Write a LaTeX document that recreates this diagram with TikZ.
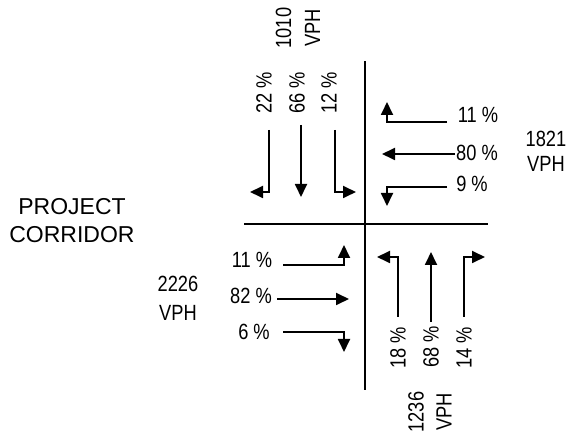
\documentclass[tikz,border=0pt]{standalone}
\usepackage{fontspec}
\setmainfont{Liberation Sans}
\newfontfamily\numfont[FakeStretch=0.83]{Liberation Sans}
\usetikzlibrary{arrows.meta}
\tikzset{
  road/.style={line width=2pt, line cap=rect},
  flow/.style={line width=1.8pt, -{Triangle[length=13pt,width=12pt]}},
  lbl/.style={font=\numfont\fontsize{22}{26}\selectfont, inner sep=0pt},
  vlbl/.style={lbl, rotate=90},
  vph/.style={lbl, align=center},
  title/.style={font=\fontsize{23}{28}\selectfont, inner sep=0pt, align=center}
}
\begin{document}
\begin{tikzpicture}[x=1pt,y=-1pt]
\useasboundingbox (0,0) rectangle (571,438);
% roads
\coordinate (vt) at (365,62);
\coordinate (vb) at (365,389);
\coordinate (hl) at (245,224);
\coordinate (hr) at (487,224);
\draw[road] (vt) -- (vb);
\draw[road] (hl) -- (hr);

% title
\node[title] (pc) at (72,221) {PROJECT\\CORRIDOR};

% southbound (top)
\node[vph, rotate=90, font=\numfont\fontsize{22}{29}\selectfont] (nvph) at (298,28) {1010\\VPH};
\node[vlbl] (s22) at (264,93) {22 \%};
\node[vlbl] (s66) at (297,93) {66 \%};
\node[vlbl] (s12) at (329,93) {12 \%};
\coordinate (sa1) at (269,130); \coordinate (sb1) at (269,192); \coordinate (sc1) at (250,192);
\coordinate (sa2) at (301,125); \coordinate (sb2) at (301,197);
\coordinate (sa3) at (335,130); \coordinate (sb3) at (335,192); \coordinate (sc3) at (356,192);
\draw[flow] (sa1) -- (sb1) -- (sc1);
\draw[flow] (sa2) -- (sb2);
\draw[flow] (sa3) -- (sb3) -- (sc3);

% westbound (right)
\node[vph, font=\numfont\fontsize{22}{25}\selectfont] (evph) at (546,151) {1821\\VPH};
\node[lbl] (w11) at (478,115) {11 \%};
\node[lbl] (w80) at (477,153) {80 \%};
\node[lbl] (w9) at (472,184) {9 \%};
\coordinate (wa1) at (447,122); \coordinate (wb1) at (387,122); \coordinate (wc1) at (387,102);
\coordinate (wa2) at (455,154); \coordinate (wb2) at (382,154);
\coordinate (wa3) at (447,187); \coordinate (wb3) at (387,187); \coordinate (wc3) at (387,206);
\draw[flow] (wa1) -- (wb1) -- (wc1);
\draw[flow] (wa2) -- (wb2);
\draw[flow] (wa3) -- (wb3) -- (wc3);

% eastbound (left)
\node[vph, font=\numfont\fontsize{22}{29}\selectfont] (wvph) at (178,298) {2226\\VPH};
\node[lbl] (e11) at (252,260) {11 \%};
\node[lbl] (e82) at (251,296) {82 \%};
\node[lbl] (e6) at (254,332) {6 \%};
\coordinate (ea1) at (283,265); \coordinate (eb1) at (344,265); \coordinate (ec1) at (344,245);
\coordinate (ea2) at (277,299); \coordinate (eb2) at (349,299);
\coordinate (ea3) at (283,332); \coordinate (eb3) at (344,332); \coordinate (ec3) at (344,352);
\draw[flow] (ea1) -- (eb1) -- (ec1);
\draw[flow] (ea2) -- (eb2);
\draw[flow] (ea3) -- (eb3) -- (ec3);

% northbound (bottom)
\node[vph, rotate=90, font=\numfont\fontsize{22}{28}\selectfont] (svph) at (430,412) {1236\\VPH};
\node[vlbl] (n18) at (398,348) {18 \%};
\node[vlbl] (n68) at (431,347) {68 \%};
\node[vlbl] (n14) at (464,348) {14 \%};
\coordinate (na1) at (398,317); \coordinate (nb1) at (398,257); \coordinate (nc1) at (377,257);
\coordinate (na2) at (431,322); \coordinate (nb2) at (431,252);
\coordinate (na3) at (464,317); \coordinate (nb3) at (464,257); \coordinate (nc3) at (485,257);
\draw[flow] (na1) -- (nb1) -- (nc1);
\draw[flow] (na2) -- (nb2);
\draw[flow] (na3) -- (nb3) -- (nc3);
\end{tikzpicture}
\end{document}
